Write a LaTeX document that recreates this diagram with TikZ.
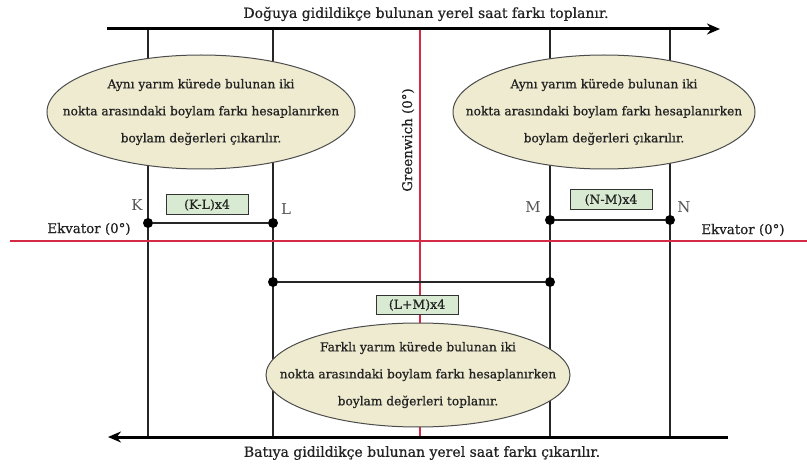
\documentclass[tikz,border=0pt]{standalone}
\usepackage{fontspec}
\setmainfont{DejaVu Serif}
\newfontfamily\semibf{DejaVu Serif}[FakeBold=0.7]
\usetikzlibrary{shapes.geometric,arrows.meta}
\definecolor{redline}{HTML}{D42A45}
\definecolor{bubble}{HTML}{EEEBD0}
\definecolor{boxfill}{HTML}{D8EBD2}
\definecolor{txt}{HTML}{222222}
\definecolor{lbl}{HTML}{555555}
\tikzset{
  axisline/.style={line width=3pt, black},
  meridian/.style={line width=1.5pt, black!85},
  redaxis/.style={line width=2.8pt, redline},
  bubble/.style={ellipse, draw=black!70, line width=1pt, fill=bubble, inner sep=0pt},
  bubbletext/.style={align=center, inner sep=0pt, text=txt, font=\semibf\fontsize{12.2}{27}\selectfont},
  formula/.style={rectangle, draw=black!80, line width=1pt, fill=boxfill, minimum width=82pt, minimum height=20pt, inner sep=0pt, text=txt, font=\semibf\fontsize{12.5}{14}\selectfont},
  dot/.style={circle, fill=black, minimum size=10pt, inner sep=0pt},
  ptlabel/.style={text=lbl, font=\fontsize{15}{17}\selectfont},
  caption/.style={text=txt, font=\semibf\fontsize{14}{16}\selectfont},
  eqlabel/.style={text=txt, font=\semibf\fontsize{13.4}{15}\selectfont}
}
\begin{document}
\begin{tikzpicture}[x=1pt,y=-1pt]
\useasboundingbox (0,0) rectangle (807,468);
% coordinates
\coordinate (kt) at (148,29); \coordinate (kb) at (148,437);
\coordinate (lt) at (273,29); \coordinate (lb) at (273,437);
\coordinate (mt) at (550,29); \coordinate (mb) at (550,437);
\coordinate (nt) at (670,29); \coordinate (nb) at (670,437);
\coordinate (gt) at (420,29); \coordinate (gb) at (420,437);
\coordinate (topL) at (107,29); \coordinate (topR) at (720,29);
\coordinate (botL) at (108,437); \coordinate (botR) at (728,437);
\coordinate (eqL) at (10,241); \coordinate (eqR) at (807,241);
% meridians
\draw[meridian] (kt) -- (kb);
\draw[meridian] (lt) -- (lb);
\draw[meridian] (mt) -- (mb);
\draw[meridian] (nt) -- (nb);
% greenwich
\draw[redaxis] (gt) -- (gb);
% equator
\draw[redaxis] (eqL) -- (eqR);
% arrows
\draw[axisline, -{Stealth[length=13pt,width=11pt]}] (topL) -- (topR);
\draw[axisline, -{Stealth[length=13pt,width=11pt]}] (botR) -- (botL);
\node[caption] (toptext) at (426,14) {Doğuya gidildikçe bulunan yerel saat farkı toplanır.};
\node[caption] (bottext) at (422,453) {Batıya gidildikçe bulunan yerel saat farkı çıkarılır.};
% ellipses
\node[bubble, minimum width=308pt, minimum height=114pt] (e1) at (201,112) {};
\node[bubbletext] (e1t) at (e1.center)
  {Aynı yarım kürede bulunan iki\\nokta arasındaki boylam farkı hesaplanırken\\boylam değerleri çıkarılır.};
\node[bubble, minimum width=302pt, minimum height=114pt] (e2) at (604,112) {};
\node[bubbletext] (e2t) at (e2.center)
  {Aynı yarım kürede bulunan iki\\nokta arasındaki boylam farkı hesaplanırken\\boylam değerleri çıkarılır.};
\node[bubble, minimum width=304pt, minimum height=104pt] (e3) at (418,375) {};
\node[bubbletext] (e3t) at (e3.center)
  {Farklı yarım kürede bulunan iki\\nokta arasındaki boylam farkı hesaplanırken\\boylam değerleri toplanır.};
% greenwich label
\node[eqlabel, rotate=90] (glabel) at (408,140) {Greenwich (0°)};
% equator labels
\node[eqlabel] (eql) at (89,229) {Ekvator (0°)};
\node[eqlabel] (eqr) at (743,230) {Ekvator (0°)};
% points
\node[dot] (K) at (148,223) {};
\node[dot] (L) at (273,223) {};
\node[dot] (M) at (550,220) {};
\node[dot] (N) at (670,220) {};
\node[dot] (L2) at (273,282) {};
\node[dot] (M2) at (550,282) {};
\draw[meridian] (K) -- (L);
\draw[meridian] (M) -- (N);
\draw[meridian] (L2) -- (M2);
\node[ptlabel] (Klbl) at (137,205) {K};
\node[ptlabel] (Llbl) at (286,209) {L};
\node[ptlabel] (Mlbl) at (533,207) {M};
\node[ptlabel] (Nlbl) at (684,207) {N};
% formula boxes
\node[formula] (fKL) at (207,205) {(K-L)x4};
\node[formula] (fNM) at (611,200) {(N-M)x4};
\node[formula, minimum height=18pt] (fLM) at (417,305) {(L+M)x4};
\end{tikzpicture}
\end{document}
